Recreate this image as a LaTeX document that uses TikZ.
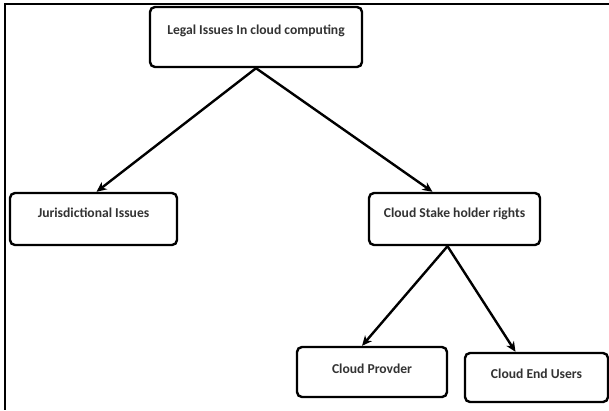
\documentclass[tikz,border=0pt]{standalone}
\usepackage{fontspec}
\setmainfont{Carlito}
\usetikzlibrary{arrows.meta,calc}
\definecolor{txt}{HTML}{333333}
\tikzset{
  box/.style={draw=black, line width=2.4pt, rounded corners=5pt, fill=white,
    inner xsep=0pt, inner ysep=0pt, font=\bfseries\fontsize{13.6}{15}\selectfont, text=txt},
  conn/.style={line width=2.4pt, -{Stealth[length=10pt,width=9pt,inset=3pt]}},
  frame/.style={line width=2.2pt}
}
\begin{document}
\begin{tikzpicture}[x=1pt,y=-1pt]
\useasboundingbox (0,0) rectangle (609,410);
\coordinate (ftl) at (5,4);
\coordinate (ftr) at (609,4);
\coordinate (fbl) at (5,410);
\draw[frame] (ftr) -- (ftl) -- (fbl);
\node[box, minimum width=212pt, text height=27pt, text depth=33pt] (top) at (256,37) {Legal Issues In cloud computing};
\node[box, minimum width=167pt, text height=24pt, text depth=28pt] (jur) at (93.5,219) {Jurisdictional Issues};
\node[box, minimum width=171pt, text height=24pt, text depth=28pt] (stake) at (454.5,219) {Cloud Stake holder rights};
\node[box, minimum width=150pt, text height=26pt, text depth=24pt] (prov) at (372,372) {Cloud Provder};
\node[box, minimum width=143pt, text height=25pt, text depth=24pt] (users) at (536.5,377.5) {Cloud End Users};
\draw[conn] (top.south) -- ([xshift=3pt]jur.north);
\draw[conn] (top.south) -- ([xshift=-22pt]stake.north);
\draw[conn] ([xshift=-7pt]stake.south) -- ([xshift=-10pt]prov.north);
\draw[conn] ([xshift=-7pt]stake.south) -- ([xshift=-21pt]users.north);
\end{tikzpicture}
\end{document}
